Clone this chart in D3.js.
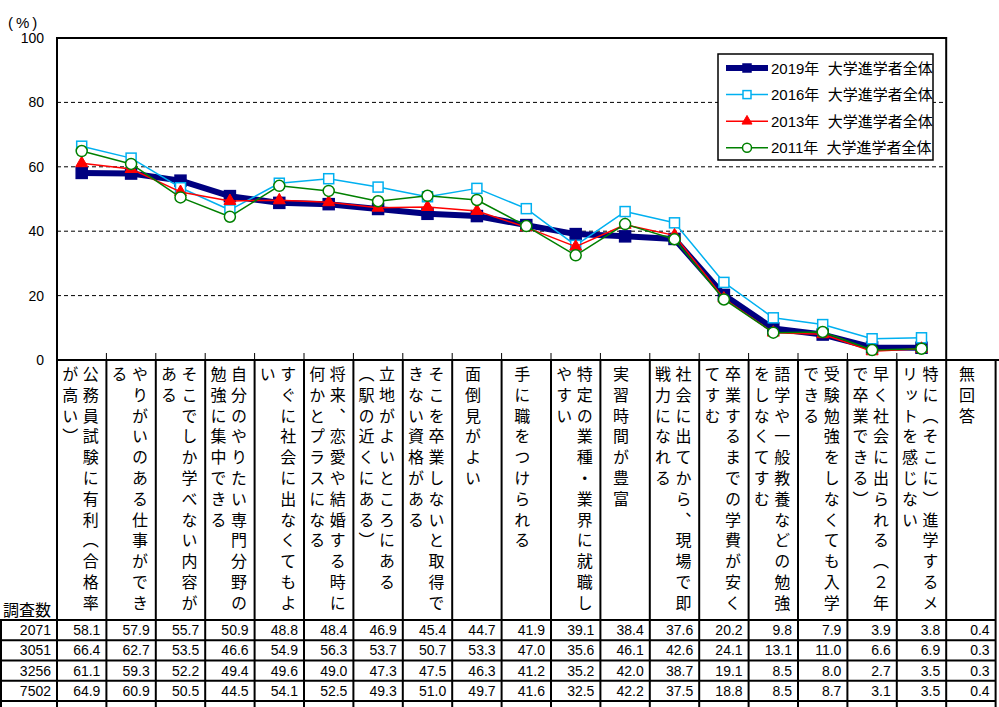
<!DOCTYPE html>
<html>
<head>
<meta charset="utf-8">
<script src="https://cdn.jsdelivr.net/npm/d3@7"></script>
<style>
  body { margin: 0; background: #fff; }
  text { font-family: "Liberation Sans", "Noto Sans CJK JP", sans-serif; fill: #000; }
  text.jp { font-family: "Noto Sans CJK JP", sans-serif; }
  text.vert { writing-mode: vertical-rl; text-orientation: mixed; }
</style>
</head>
<body>
<svg id="chart" width="999" height="707"></svg>
<script>
// 項目（改行 = 縦書きの列の区切り）
const categories = [
  "公務員試験に有利（合格率\nが高い）",
  "やりがいのある仕事ができ\nる",
  "そこでしか学べない内容が\nある",
  "自分のやりたい専門分野の\n勉強に集中できる",
  "すぐに社会に出なくてもよ\nい",
  "将来、恋愛や結婚する時に\n何かとプラスになる",
  "立地がよいところにある\n（駅の近くにある）",
  "そこを卒業しないと取得で\nきない資格がある",
  "面倒見がよい",
  "手に職をつけられる",
  "特定の業種・業界に就職し\nやすい",
  "実習時間が豊富",
  "社会に出てから、現場で即\n戦力になれる",
  "卒業するまでの学費が安く\nてすむ",
  "語学や一般教養などの勉強\nをしなくてすむ",
  "受験勉強をしなくても入学\nできる",
  "早く社会に出られる（２年\nで卒業できる）",
  "特に（そこに）進学するメ\nリットを感じない",
  "無回答"
];

const seriesNames = ["2019年  大学進学者全体", "2016年  大学進学者全体", "2013年  大学進学者全体", "2011年  大学進学者全体"];
const values2019 = [58.1, 57.9, 55.7, 50.9, 48.8, 48.4, 46.9, 45.4, 44.7, 41.9, 39.1, 38.4, 37.6, 20.2, 9.8, 7.9, 3.9, 3.8, 0.4];
const values2016 = [66.4, 62.7, 53.5, 46.6, 54.9, 56.3, 53.7, 50.7, 53.3, 47.0, 35.6, 46.1, 42.6, 24.1, 13.1, 11.0, 6.6, 6.9, 0.3];
const values2013 = [61.1, 59.3, 52.2, 49.4, 49.6, 49.0, 47.3, 47.5, 46.3, 41.2, 35.2, 42.0, 38.7, 19.1, 8.5, 8.0, 2.7, 3.5, 0.3];
const values2011 = [64.9, 60.9, 50.5, 44.5, 54.1, 52.5, 49.3, 51.0, 49.7, 41.6, 32.5, 42.2, 37.5, 18.8, 8.5, 8.7, 3.1, 3.5, 0.4];
const counts = [2071, 3051, 3256, 7502];
const yTicks = [0, 20, 40, 60, 80, 100];

const allValues = [values2019, values2016, values2013, values2011];
const plotCount = 18; // 無回答はグラフに描かない

const svg = d3.select("#chart");

// スケール
const x = d3.scaleBand().domain(d3.range(categories.length)).range([57, 57 + categories.length * 49.4]);
const y = d3.scaleLinear().domain([0, 100]).range([360, 38]);
const row = d3.scaleBand().domain(d3.range(counts.length)).range([620, 701]);
const cx = i => x(i) + x.bandwidth() / 2;
const plotRight = x(plotCount);

// 目盛線（点線）
svg.append("g")
  .selectAll("line")
  .data(yTicks.filter(t => t > 0 && t < 100))
  .join("line")
  .attr("x1", 57).attr("x2", plotRight)
  .attr("y1", d => y(d)).attr("y2", d => y(d))
  .attr("stroke", "#000").attr("stroke-width", 1).attr("stroke-dasharray", "4,3");

// y軸ラベル
svg.append("g")
  .selectAll("text")
  .data(yTicks)
  .join("text")
  .attr("x", 44).attr("y", d => y(d))
  .attr("text-anchor", "end").attr("dominant-baseline", "central")
  .attr("font-size", 14)
  .text(d => d);

svg.append("text")
  .attr("x", 8).attr("y", 22)
  .attr("dominant-baseline", "central")
  .attr("font-size", 15).attr("letter-spacing", 3)
  .text("(%)");

// x方向の小さな目盛
svg.append("g")
  .selectAll("line")
  .data(d3.range(1, plotCount))
  .join("line")
  .attr("x1", d => x(d)).attr("x2", d => x(d))
  .attr("y1", 353).attr("y2", 360)
  .attr("stroke", "#000").attr("stroke-width", 1);

// グラフ枠
svg.append("path")
  .attr("d", `M57,707 V${y(100)} H${plotRight} V360`)
  .attr("fill", "none").attr("stroke", "#000").attr("stroke-width", 2);

// 系列のスタイル
const styles = [
  { color: "#000080", width: 6, marker: "square", fill: "#000080", size: 11 },
  { color: "#00B0F0", width: 1.5, marker: "square", fill: "#fff", size: 10 },
  { color: "#FF0000", width: 1.5, marker: "triangle", fill: "#FF0000", size: 12 },
  { color: "#008000", width: 1.5, marker: "circle", fill: "#fff", size: 11 }
];

function drawMarker(g, s, px, py) {
  if (s.marker === "square") {
    g.append("rect")
      .attr("x", px - s.size / 2).attr("y", py - s.size / 2)
      .attr("width", s.size).attr("height", s.size)
      .attr("fill", s.fill).attr("stroke", s.color).attr("stroke-width", 1.5);
  } else if (s.marker === "triangle") {
    g.append("path")
      .attr("d", d3.symbol(d3.symbolTriangle, Math.sqrt(3) / 4 * s.size * s.size)())
      .attr("transform", `translate(${px},${py})`)
      .attr("fill", s.fill).attr("stroke", s.color).attr("stroke-width", 1);
  } else {
    g.append("circle")
      .attr("cx", px).attr("cy", py).attr("r", s.size / 2)
      .attr("fill", s.fill).attr("stroke", s.color).attr("stroke-width", 1.5);
  }
}

// 凡例
const legend = svg.append("g");
legend.append("rect")
  .attr("x", 718).attr("y", 54).attr("width", 215).attr("height", 106)
  .attr("fill", "#fff").attr("stroke", "#000").attr("stroke-width", 1.5);

seriesNames.forEach((name, i) => {
  const ly = 68 + i * 26.6;
  const s = styles[i];
  legend.append("line")
    .attr("x1", 726).attr("x2", 768).attr("y1", ly).attr("y2", ly)
    .attr("stroke", s.color).attr("stroke-width", s.width);
  drawMarker(legend, i === 0 ? { ...s, size: 8 } : { ...s, size: s.size - 2 }, 747, ly);
  legend.append("text")
    .attr("x", 771).attr("y", ly)
    .attr("dominant-baseline", "central")
    .attr("font-size", 15)
    .style("white-space", "pre")
    .text(name);
});

// 折れ線
const line = d3.line()
  .x((d, i) => cx(i))
  .y(d => y(d));

allValues.forEach((vals, k) => {
  const s = styles[k];
  const pts = vals.slice(0, plotCount);
  const g = svg.append("g");
  g.append("path")
    .datum(pts)
    .attr("d", line)
    .attr("fill", "none")
    .attr("stroke", s.color)
    .attr("stroke-width", s.width)
    .attr("stroke-linejoin", "round");
  pts.forEach((v, i) => drawMarker(g, s, cx(i), y(v)));
});

// 表：見出し（縦書き）
const header = svg.append("g");
categories.forEach((c, i) => {
  const lines = c.split("\n");
  const offs = lines.length === 1 ? [-4] : [9, -11.5];
  header.append("g")
    .selectAll("text")
    .data(lines)
    .join("text")
    .attr("class", "jp vert")
    .attr("x", (d, j) => cx(i) + offs[j])
    .attr("y", 366)
    .attr("font-size", 16)
    .attr("letter-spacing", 4.8)
    .text(d => d);
});

svg.append("text")
  .attr("class", "jp")
  .attr("x", 3).attr("y", 616)
  .attr("font-size", 16)
  .text("調査数");

// 表：数値
const body = svg.append("g");
counts.forEach((n, r) => {
  const ty = row(r) + row.bandwidth() / 2;
  body.append("text")
    .attr("x", 51).attr("y", ty)
    .attr("text-anchor", "end").attr("dominant-baseline", "central")
    .attr("font-size", 14)
    .text(n);
  body.append("g")
    .selectAll("text")
    .data(allValues[r])
    .join("text")
    .attr("x", (d, i) => x(i) + x.bandwidth() - 6)
    .attr("y", ty)
    .attr("text-anchor", "end").attr("dominant-baseline", "central")
    .attr("font-size", 14)
    .text(d => d.toFixed(1));
});

// 表：罫線
const grid = svg.append("g").attr("stroke", "#000").attr("stroke-width", 2);
const tableRight = x(categories.length - 1) + x.bandwidth();
grid.append("line").attr("x1", 57).attr("x2", 999).attr("y1", 360).attr("y2", 360);
grid.selectAll(".h")
  .data(d3.range(counts.length + 1))
  .join("line")
  .attr("x1", 0).attr("x2", tableRight)
  .attr("y1", d => d < counts.length ? row(d) : row(counts.length - 1) + row.bandwidth())
  .attr("y2", d => d < counts.length ? row(d) : row(counts.length - 1) + row.bandwidth());
grid.append("line").attr("x1", 1).attr("x2", 1).attr("y1", 620).attr("y2", 707);
grid.selectAll(".v")
  .data(d3.range(1, categories.length + 1))
  .join("line")
  .attr("x1", d => d < categories.length ? x(d) : tableRight)
  .attr("x2", d => d < categories.length ? x(d) : tableRight)
  .attr("y1", 360).attr("y2", 707);
</script>
</body>
</html>
